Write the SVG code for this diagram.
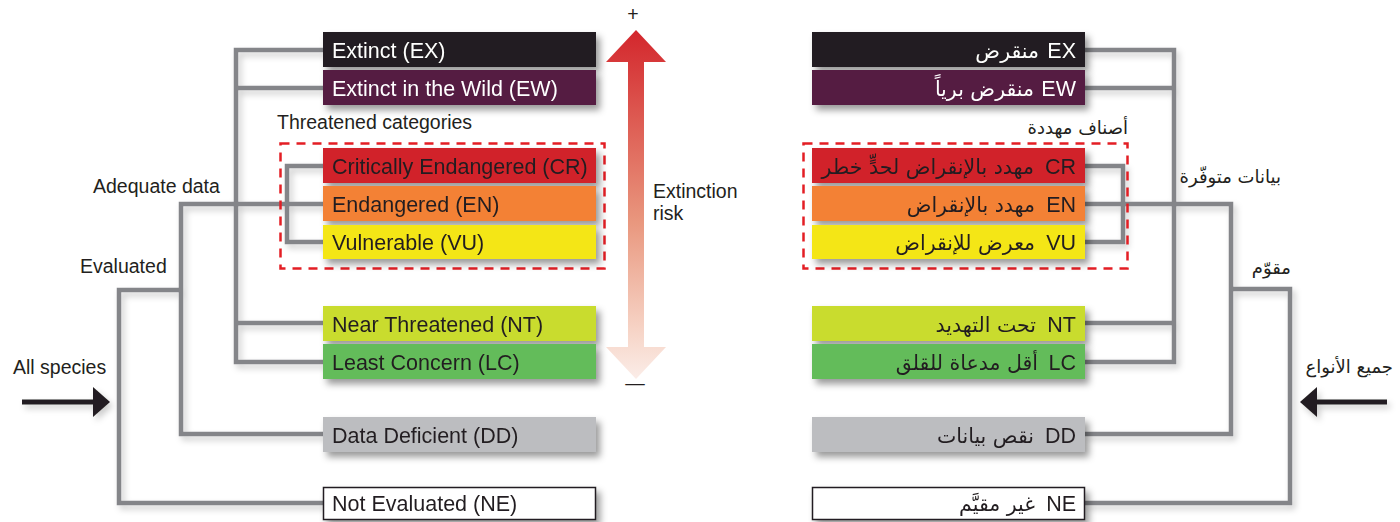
<svg xmlns="http://www.w3.org/2000/svg" width="1400" height="522" viewBox="0 0 1400 522">
<defs>
<filter id="sh" x="-10%" y="-30%" width="130%" height="180%">
<feDropShadow dx="4" dy="5" stdDeviation="3.5" flood-color="#000" flood-opacity="0.4"/>
</filter>
<filter id="lsh" x="-10%" y="-10%" width="130%" height="130%">
<feDropShadow dx="3" dy="4" stdDeviation="3" flood-color="#000" flood-opacity="0.2"/>
</filter>
<linearGradient id="risk" gradientUnits="userSpaceOnUse" x1="0" y1="30" x2="0" y2="379">
<stop offset="0" stop-color="#d3262c"/>
<stop offset="0.55" stop-color="#e9977e"/>
<stop offset="0.85" stop-color="#f6d2c4"/>
<stop offset="1" stop-color="#fbede8"/>
</linearGradient>
</defs>
<style>
.en{font-family:"Liberation Sans",Arial,sans-serif;font-size:21.5px;fill:#231f20}
.lab{font-family:"Liberation Sans",Arial,sans-serif;font-size:19.5px;fill:#231f20}
.ar{font-family:"DejaVu Sans","Noto Sans",sans-serif;font-size:20.5px;fill:#231f20}
.arl{font-family:"DejaVu Sans","Noto Sans",sans-serif;font-size:18px;fill:#231f20}
text.w{fill:#ffffff}
.box{filter:url(#sh)}
.con{fill:none;stroke:#848589;stroke-width:4.5;stroke-linejoin:miter;stroke-linecap:butt}
.dash{fill:none;stroke:#e31e24;stroke-width:2.5;stroke-dasharray:9 7}
</style>
<rect width="1400" height="522" fill="#ffffff"/>

<g id="connectors" filter="url(#lsh)">
<path class="con" d="M323,50 H236 V362 H323"/>
<path class="con" d="M236,88 H323"/>
<path class="con" d="M236,323 H323"/>
<path class="con" d="M323,166 H287 V242 H323"/>
<path class="con" d="M323,204 H181 V434 H323"/>
<path class="con" d="M181,290 H119 V503 H323"/>
<path class="con" d="M1085,50 H1174 V362 H1085"/>
<path class="con" d="M1174,88 H1085"/>
<path class="con" d="M1174,323 H1085"/>
<path class="con" d="M1085,166 H1123 V242 H1085"/>
<path class="con" d="M1085,204 H1231 V434 H1085"/>
<path class="con" d="M1231,289 H1290 V503 H1085"/>
<path d="M22,402 H96" stroke="#231f20" stroke-width="5" fill="none"/>
<polygon points="93,387 110,402 93,417" fill="#231f20"/>
<path d="M1387,402 H1314" stroke="#231f20" stroke-width="5" fill="none"/>
<polygon points="1317,387 1300,402 1317,417" fill="#231f20"/>
</g>

<rect class="dash" x="280.5" y="143.5" width="324" height="125"/>
<rect class="dash" x="803.5" y="143.5" width="324" height="125"/>

<g id="ex-en" class="box"><rect x="323" y="32" width="273" height="35" fill="#231f20"/><text class="en w" x="332" y="57.5">Extinct (EX)</text></g>
<g id="ew-en" class="box"><rect x="323" y="70" width="273" height="35" fill="#541c43"/><text class="en w" x="332" y="95.5">Extinct in the Wild (EW)</text></g>
<g id="cr-en" class="box"><rect x="323" y="148" width="273" height="35" fill="#d12229"/><text class="en" x="332" y="173.5">Critically Endangered (CR)</text></g>
<g id="en-en" class="box"><rect x="323" y="186" width="273" height="35" fill="#f38134"/><text class="en" x="332" y="211.5">Endangered (EN)</text></g>
<g id="vu-en" class="box"><rect x="323" y="225" width="273" height="34" fill="#f4e614"/><text class="en" x="332" y="250">Vulnerable (VU)</text></g>
<g id="nt-en" class="box"><rect x="323" y="306" width="273" height="35" fill="#c9dc2e"/><text class="en" x="332" y="331.5">Near Threatened (NT)</text></g>
<g id="lc-en" class="box"><rect x="323" y="344" width="273" height="35" fill="#64bc5a"/><text class="en" x="332" y="369.5">Least Concern (LC)</text></g>
<g id="dd-en" class="box"><rect x="323" y="417" width="273" height="35" fill="#bcbdc0"/><text class="en" x="332" y="442.5">Data Deficient (DD)</text></g>
<g id="ne-en" class="box"><rect x="323.5" y="487.5" width="272" height="32" fill="#ffffff" stroke="#231f20" stroke-width="1.5"/><text class="en" x="332" y="511">Not Evaluated (NE)</text></g>

<g id="ex-ar" class="box"><rect x="812" y="32" width="273" height="35" fill="#231f20"/><text class="en w" x="1076" y="57.5" text-anchor="end">EX</text><text class="ar w" x="1039" y="57.5" text-anchor="end">منقرض</text></g>
<g id="ew-ar" class="box"><rect x="812" y="70" width="273" height="35" fill="#541c43"/><text class="en w" x="1076" y="95.5" text-anchor="end">EW</text><text class="ar w" x="1034" y="95.5" text-anchor="end">منقرض برياً</text></g>
<g id="cr-ar" class="box"><rect x="812" y="148" width="273" height="35" fill="#d12229"/><text class="en" x="1076" y="173.5" text-anchor="end">CR</text><text class="ar" x="1034" y="173.5" text-anchor="end">مهدد بالإنقراض لحدٍّ خطر</text></g>
<g id="en-ar" class="box"><rect x="812" y="186" width="273" height="35" fill="#f38134"/><text class="en" x="1076" y="211.5" text-anchor="end">EN</text><text class="ar" x="1035" y="211.5" text-anchor="end">مهدد بالإنقراض</text></g>
<g id="vu-ar" class="box"><rect x="812" y="225" width="273" height="34" fill="#f4e614"/><text class="en" x="1076" y="250" text-anchor="end">VU</text><text class="ar" x="1035" y="250" text-anchor="end">معرض للإنقراض</text></g>
<g id="nt-ar" class="box"><rect x="812" y="306" width="273" height="35" fill="#c9dc2e"/><text class="en" x="1076" y="331.5" text-anchor="end">NT</text><text class="ar" x="1036" y="331.5" text-anchor="end">تحت التهديد</text></g>
<g id="lc-ar" class="box"><rect x="812" y="344" width="273" height="35" fill="#64bc5a"/><text class="en" x="1076" y="369.5" text-anchor="end">LC</text><text class="ar" x="1038" y="369.5" text-anchor="end">أقل مدعاة للقلق</text></g>
<g id="dd-ar" class="box"><rect x="812" y="417" width="273" height="35" fill="#bcbdc0"/><text class="en" x="1076" y="442.5" text-anchor="end">DD</text><text class="ar" x="1034" y="442.5" text-anchor="end">نقص بيانات</text></g>
<g id="ne-ar" class="box"><rect x="812.5" y="487.5" width="272" height="32" fill="#ffffff" stroke="#231f20" stroke-width="1.5"/><text class="en" x="1076" y="511" text-anchor="end">NE</text><text class="ar" x="1035" y="511" text-anchor="end">غير مقيَّم</text></g>

<g id="labels-en">
<text class="lab" x="277" y="129">Threatened categories</text>
<text class="lab" x="93" y="193">Adequate data</text>
<text class="lab" x="80" y="273">Evaluated</text>
<text class="lab" x="13" y="374">All species</text>
</g>
<g id="labels-ar">
<text class="arl" x="1128" y="134" text-anchor="end">أصناف مهددة</text>
<text class="arl" x="1281" y="183" text-anchor="end">بيانات متوفّرة</text>
<text class="arl" x="1291" y="274" text-anchor="end">مقوّم</text>
<text class="arl" x="1393" y="373" text-anchor="end">جميع الأنواع</text>
</g>

<g id="risk-arrow">
<polygon points="636,30 666,62 644,62 644,347 666,347 636,379 606,347 628,347 628,62 606,62" fill="url(#risk)"/>
<text class="lab" x="633" y="21" text-anchor="middle" font-size="24">+</text>
<text class="lab" x="635" y="390" text-anchor="middle" font-size="22">—</text>
<text class="lab" x="653" y="198" font-size="20">Extinction</text>
<text class="lab" x="653" y="220" font-size="20">risk</text>
</g>
</svg>
